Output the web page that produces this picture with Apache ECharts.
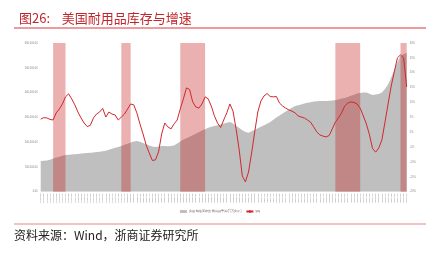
<!DOCTYPE html>
<html>
<head>
<meta charset="utf-8">
<script src="https://cdn.jsdelivr.net/npm/echarts@6/dist/echarts.min.js"></script>
<style>
  html, body { margin: 0; padding: 0; background: #fff; }
  #chart { width: 440px; height: 255px; }
</style>
</head>
<body>
<div id="chart"></div>
<script>
// 季度数据：1993Q1 - 2022Q3
const startYear = 1993
const quarterCount = 119
const categories = []
for (let i = 0; i < quarterCount; i++) {
  const y = startYear + Math.floor(i / 4)
  const m = (i % 4) * 3 + 3
  categories.push(y + '-' + (m < 10 ? '0' + m : m))
}

// 美国:制造商存货:耐用品 (百万美元)
const inventory = [
  123900, 124700, 125900, 129100, 134400, 137600, 141200, 144900, 148100, 149300,
  150500, 151300, 152500, 153700, 154900, 156200, 157000, 158200, 159800, 161400,
  163400, 165000, 169100, 173100, 177100, 180800, 184400, 189200, 193700, 198100,
  203000, 204600, 201300, 196500, 191300, 186000, 182400, 180400, 182000, 184000,
  184400, 183600, 184000, 186000, 194100, 202200, 210200, 215900, 221900, 228000,
  233600, 239700, 246500, 252200, 257800, 261900, 265100, 268300, 271600, 274800,
  278000, 281200, 275200, 266300, 257400, 247700, 240500, 237700, 243700, 250200,
  255800, 261900, 267900, 274000, 281200, 290100, 299000, 307500, 315900, 323600,
  331300, 338500, 345400, 349000, 352300, 355900, 358700, 361100, 363600, 365200,
  366000, 366000, 366000, 366800, 368000, 370000, 372400, 375700, 378100, 382500,
  387000, 391400, 395800, 398300, 400700, 400300, 395000, 390200, 392200, 394200,
  400300, 414400, 432600, 460800, 491100, 523400, 547600, 555600, 559700
]

// 同比 (%)
const yoy = [
  4.4, 4.9, 4.8, 4.3, 4.1, 6.5, 7.8, 9.5, 11.9, 12.9,
  11.2, 9.2, 6.8, 4.8, 3.1, 1.9, 2.3, 4.8, 6.1, 6.8,
  8.0, 5.1, 6.8, 6.1, 5.8, 4.1, 5.1, 6.1, 7.8, 9.5,
  9.2, 6.5, 2.8, -0.6, -4.3, -7.0, -9.5, -9.3, -6.6, -0.6,
  3.1, 1.8, 1.1, 2.8, 4.1, 7.8, 11.2, 14.9, 14.4, 10.2,
  8.5, 8.1, 9.5, 11.9, 11.2, 8.8, 5.5, 3.1, 1.6, 4.1,
  6.5, 9.5, 7.1, 1.1, -6.0, -14.7, -16.7, -13.4, -7.0, 0.1,
  6.8, 10.5, 12.2, 13.0, 12.0, 11.9, 12.0, 9.8, 8.8, 8.1,
  7.5, 7.1, 6.5, 5.5, 5.1, 4.8, 4.1, 3.4, 1.8, 0.1,
  -0.9, -1.3, -1.6, -1.1, 1.1, 3.4, 4.8, 6.5, 8.8, 9.8,
  10.2, 10.0, 9.5, 8.1, 5.5, 2.8, -0.9, -5.5, -6.7, -5.3,
  -2.6, 3.4, 9.5, 15.5, 20.3, 25.0, 26.0, 25.0, 15.2
]

// 阴影区间（类目序号）
const bands = [
  [4.3, 8.1],
  [25.5, 29.0],
  [45.3, 53.2],
  [94.6, 103.0],
  [115.6, 118]
]

const chart = echarts.init(document.getElementById('chart'))

const option = {
  animation: false,
  title: {
    text: '图26:    美国耐用品库存与增速',
    left: 14,
    top: 7,
    textStyle: {
      color: '#c0262d',
      fontSize: 13,
      fontWeight: 'normal',
      fontFamily: 'Noto Sans CJK SC'
    }
  },
  graphic: [
    {
      type: 'line',
      shape: { x1: 14, y1: 28, x2: 426, y2: 28 },
      style: { stroke: '#d9393f', lineWidth: 1 }
    },
    {
      type: 'line',
      shape: { x1: 14, y1: 224, x2: 426, y2: 224 },
      style: { stroke: '#e08a8d', lineWidth: 1 }
    },
    {
      type: 'text',
      left: 14,
      top: 229,
      style: {
        text: '资料来源：Wind，浙商证券研究所',
        fill: '#222',
        fontSize: 12,
        fontFamily: 'Noto Sans CJK SC'
      }
    }
  ],
  legend: {
    left: 'center',
    top: 205,
    itemWidth: 7,
    itemHeight: 3,
    itemGap: 4,
    textStyle: { fontSize: 3, color: '#666', padding: [0, 0, 0, -3] },
    data: [
      { name: '美国:制造商存货:耐用品:季调(百万美元)', icon: 'rect' },
      { name: 'yoy' }
    ]
  },
  grid: {
    left: 40.7,
    right: 33.3,
    top: 43,
    bottom: 63.3
  },
  xAxis: {
    type: 'category',
    data: categories,
    boundaryGap: false,
    axisLine: { show: false },
    axisTick: { show: false },
    axisLabel: {
      interval: 0,
      rotate: 90,
      fontSize: 2.5,
      color: '#888',
      margin: 2
    }
  },
  yAxis: [
    {
      type: 'value',
      min: 0,
      max: 600000,
      interval: 100000,
      splitLine: { show: false },
      axisLine: { show: false },
      axisTick: { show: false },
      axisLabel: {
        fontSize: 2.6,
        color: '#888',
        margin: 3,
        formatter: (v) => v.toLocaleString('en-US', { minimumFractionDigits: 2 })
      }
    },
    {
      type: 'value',
      min: -20,
      max: 30,
      interval: 5,
      splitLine: { show: false },
      axisLine: { show: false },
      axisTick: { show: false },
      axisLabel: {
        fontSize: 2.6,
        color: '#888',
        margin: 3,
        formatter: '{value}%'
      }
    }
  ],
  series: [
    {
      name: '美国:制造商存货:耐用品:季调(百万美元)',
      type: 'line',
      yAxisIndex: 0,
      data: inventory,
      symbol: 'none',
      lineStyle: { width: 0 },
      itemStyle: { color: '#bfbfbf' },
      areaStyle: { color: '#bfbfbf', opacity: 1 },
      z: 1,
      markArea: {
        silent: true,
        z: 3,
        itemStyle: { color: 'rgba(196, 24, 24, 0.34)' },
        data: bands.map(b => [{ xAxis: b[0] }, { xAxis: b[1] }])
      }
    },
    {
      name: 'yoy',
      type: 'line',
      yAxisIndex: 1,
      data: yoy,
      symbol: 'none',
      lineStyle: { color: '#d0282e', width: 1 },
      itemStyle: { color: '#d0282e' },
      z: 5
    }
  ]
}

chart.setOption(option)
</script>
</body>
</html>
